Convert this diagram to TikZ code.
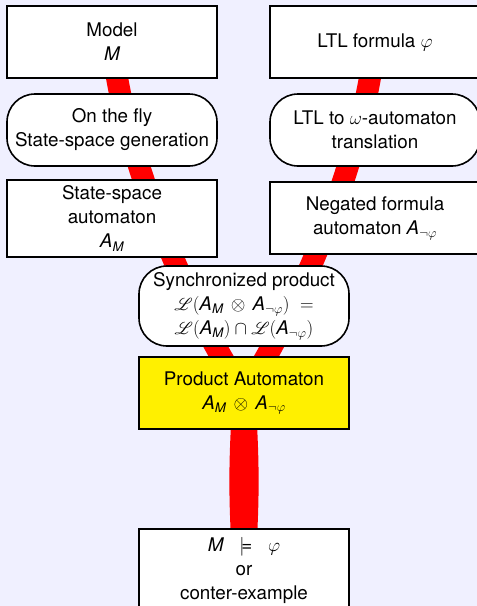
\RequirePackage{fix-cm}
\documentclass[tikz,border=0pt]{standalone}
\usepackage{amsmath,amssymb}
\usepackage{mathrsfs}
\usepackage{fontspec}
\setmainfont{TeX Gyre Heros}
\pgfdeclarelayer{back}
\pgfsetlayers{back,main}

\definecolor{pagebg}{RGB}{240,240,255}
\definecolor{prodyellow}{RGB}{255,240,0}
\definecolor{flowred}{RGB}{255,0,0}

% sans italic letters inside formulas
\newcommand{\mv}[1]{\text{\itshape #1}}
\newcommand{\AM}{\mv{A}_{\mv{M}}}
\newcommand{\Anphi}{\mv{A}_{\neg\varphi}}
\newcommand{\prodop}{\mathbin{\,\otimes\,}}

\tikzset{
  stagebox/.style={draw=black, line width=1.6pt, fill=white, minimum width=210pt,
    minimum height=72pt, align=center, inner sep=2pt, font=\fontsize{18.8}{24}\selectfont},
  procbox/.style={stagebox, rounded corners=28pt},
  flow/.style={draw=flowred, line width=22pt}
}

\begin{document}
\begin{tikzpicture}[x=1pt, y=-1pt]
  \useasboundingbox (0,0) rectangle (477,606);
  \begin{pgfonlayer}{back}
    \fill[pagebg] (0,0) rectangle (477,606);
  \end{pgfonlayer}

  % left chain: the model
  \node[stagebox] (model) at (112,42) {Model\\ $\mv{M}$};
  \node[procbox] (fly) at (112,130) {On the fly\\ State-space generation};
  \node[stagebox, minimum height=77pt] (ssa) at (112,218.5) {State-space\\ automaton\\ $\AM$};

  % right chain: the formula
  \node[stagebox] (ltl) at (375,42) {LTL formula $\varphi$};
  \node[procbox] (trans) at (375,130) {LTL to $\omega$-automaton\\ translation};
  \node[stagebox] (neg) at (375,218) {Negated formula\\ automaton $\Anphi$};

  % product and verdict
  \node[procbox, minimum height=80pt] (sync) at (244,306)
    {Synchronized product\\ $\mathscr{L}(\AM \prodop \Anphi)\ =$\\ $\mathscr{L}(\AM) \cap \mathscr{L}(\Anphi)$};
  \node[stagebox, fill=prodyellow] (prod) at (244,393) {Product Automaton\\ $\AM \prodop \Anphi$};
  \node[stagebox, minimum height=82pt] (res) at (244,570)
    {$\mv{M}\ \ \models\ \ \varphi$\\ or\\ conter-example};

  % red flow bands behind the boxes
  \begin{pgfonlayer}{back}
    \draw[flow] (model.center) .. controls (125,170) and (200,330) .. (prod.center);
    \draw[flow] (ltl.center) .. controls (362,170) and (287,330) .. (prod.center);
    \draw[flow] (prod.center) to[bend left=4] (res.center);
    \draw[flow] (prod.center) to[bend right=4] (res.center);
  \end{pgfonlayer}
\end{tikzpicture}
\end{document}
